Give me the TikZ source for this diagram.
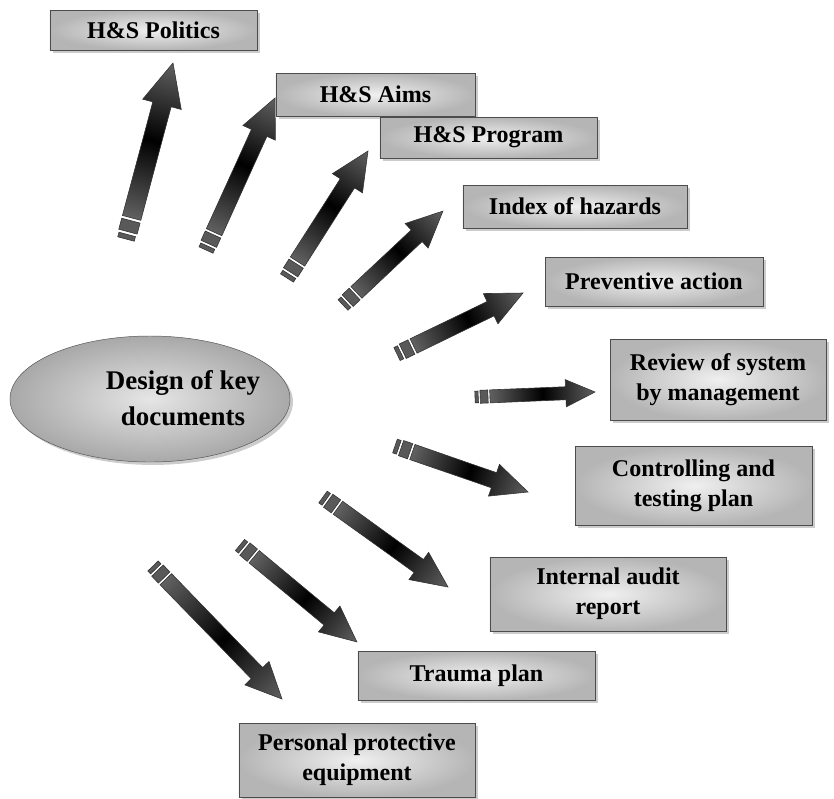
\documentclass[tikz,border=0pt]{standalone}
\usepackage{fontspec}
\setmainfont{Liberation Serif}
\usetikzlibrary{calc,shadows,shapes.geometric}

\tikzset{
  docbox/.style={draw=gray!60!black, inner sep=0pt, inner color=gray!12, outer color=gray!58,
    font=\fontsize{20.5}{25.6}\selectfont\bfseries, align=center,
    drop shadow={shadow xshift=2.5pt, shadow yshift=-2.5pt, opacity=0.4}},
  keyellipse/.style={ellipse, draw=gray!65!black, inner sep=0pt, inner color=gray!20, outer color=gray!68,
    drop shadow={shadow xshift=2.5pt, shadow yshift=-2.5pt, opacity=0.4}},
  keytext/.style={font=\fontsize{23}{30.7}\selectfont\bfseries, align=center},
  arrowfill/.style={draw=black!80, line width=0.5pt, line join=miter,
    left color=black!62, right color=black!62, middle color=black},
  stripefill/.style={draw=black!80, line width=0.5pt, fill=black!65}
}

% striped block arrow from tail #1 to tip #2, half width #3 (px)
\newcommand{\stripedarrow}[3]{%
  \path let \p1=(#1), \p2=(#2) in
    \pgfextra{\pgfmathsetmacro\arang{atan2(\y2-\y1,\x2-\x1)}%
      \pgfmathsetmacro\arlen{veclen(\x2-\x1,\y2-\y1)}%
      \xdef\arang{\arang}\xdef\arlen{\arlen}};
  \begin{scope}[transform canvas={shift={(#1)},rotate=\arang},x=1pt,y=1pt]
    \pgfmathsetmacro\aw{#3*0.8536}
    \pgfmathsetmacro\abase{\arlen-4.5*\aw}
    \path[stripefill] (0,-0.9*\aw) rectangle (0.5*\aw,0.9*\aw);
    \path[stripefill] (0.8*\aw,-\aw) rectangle (2*\aw,\aw);
    \path[arrowfill] (2.3*\aw,-\aw) -- (\abase,-\aw) -- (\abase,-2.1*\aw) -- (\arlen,0)
      -- (\abase,2.1*\aw) -- (\abase,\aw) -- (2.3*\aw,\aw) -- cycle;
  \end{scope}
}

\begin{document}
\begin{tikzpicture}[x=0.03cm,y=-0.03cm]
 \useasboundingbox (0,0) rectangle (834,798);

 % central ellipse
 \node[keyellipse, minimum width=8.4cm, minimum height=3.78cm] (key) at (150,399) {};
 \node[keytext] (keylabel) at (183,398) {Design of key\\documents};

 % the documents
 \node[docbox, minimum width=6.21cm, minimum height=1.2cm]  (politics) at (153.5,30)  {H\&S Politics};
 \node[docbox, minimum width=5.97cm, minimum height=1.29cm] (aims)     at (375.5,94.5) {H\&S Aims};
 \node[docbox, minimum width=6.51cm, minimum height=1.23cm] (program)  at (488.5,137.5) {H\&S Program};
 \node[docbox, minimum width=6.72cm, minimum height=1.29cm] (hazards)  at (575,206.5) {Index of hazards};
 \node[docbox, minimum width=6.54cm, minimum height=1.47cm] (prevent)  at (654,281.5) {Preventive action};
 \node[docbox, minimum width=6.48cm, minimum height=2.43cm] (review)   at (718,379.5) {Review of system\\by management};
 \node[docbox, minimum width=7.11cm, minimum height=2.37cm] (control)  at (693.5,485.5) {Controlling and\\testing plan};
 \node[docbox, minimum width=7.08cm, minimum height=2.22cm] (audit)    at (608,594) {Internal audit\\report};
 \node[docbox, minimum width=7.11cm, minimum height=1.47cm] (trauma)   at (476.5,675.5) {Trauma plan};
 \node[docbox, minimum width=7.08cm, minimum height=2.22cm] (ppe)      at (357,760) {Personal protective\\equipment};

 % the arrows
 \foreach \i/\tx/\ty/\hx/\hy/\w in {1/126/239/173/63/9.5, 2/206/250/275/98/8.5,
   3/287/278/368/151/8.5, 4/343/305/443/211/8, 5/397/354/523/293/8,
   6/475/397/595/392/6.5, 7/395/446/528/492/8, 8/323/497/448/587/8,
   9/240/545/357/642/8, 10/153/566/282/699/8} {
   \coordinate (tail\i) at (\tx,\ty);
   \coordinate (tip\i) at (\hx,\hy);
   \stripedarrow{tail\i}{tip\i}{\w}
 }
\end{tikzpicture}
\end{document}
